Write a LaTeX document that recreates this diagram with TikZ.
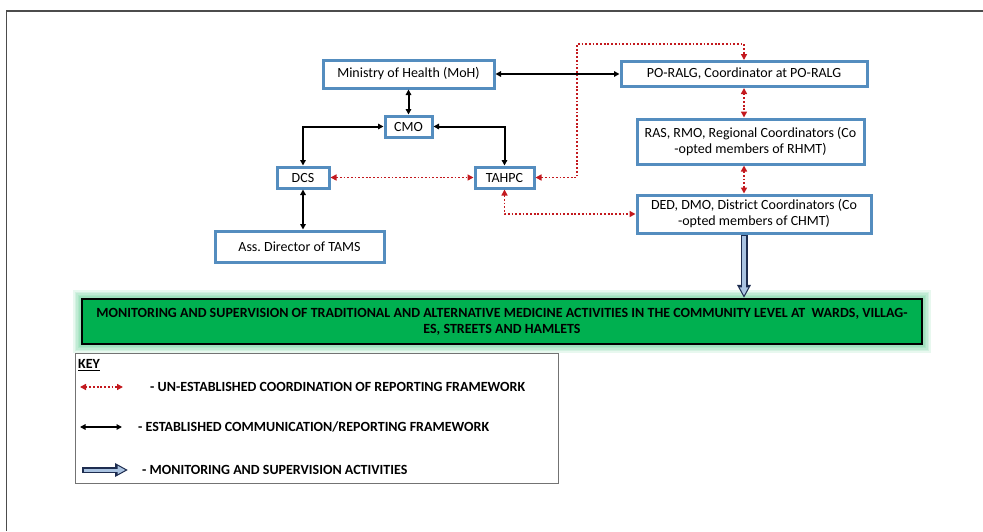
\documentclass[tikz,border=0pt]{standalone}
\usepackage{fontspec}
\setmainfont{Carlito}
\usepackage{tikz}
\usetikzlibrary{arrows.meta,positioning,calc,backgrounds}

\definecolor{boxblue}{RGB}{84,141,191}
\definecolor{linkred}{RGB}{195,25,30}
\definecolor{fillgreen}{RGB}{0,176,80}
\definecolor{arrownavy}{RGB}{30,45,80}
\definecolor{arrowfill}{RGB}{170,195,225}

\begin{document}
\begin{tikzpicture}[
    x=1pt, y=-1pt,
    box/.style={rectangle, draw=boxblue, line width=3pt, fill=white, align=center, inner sep=2pt, font=\fontsize{14}{16}\selectfont},
    solidlink/.style={{Triangle[length=5.5pt,width=5.5pt]}-{Triangle[length=5.5pt,width=5.5pt]}, line width=2pt, black},
    redlink/.style={{Triangle[length=6pt,width=6pt]}-{Triangle[length=6pt,width=6pt]}, line width=1.8pt, linkred, dash pattern=on 1.8pt off 1.9pt},
    monitorout/.style={-{Triangle[length=13pt,width=13pt]}, line width=7pt, arrownavy},
    monitorin/.style={-{Triangle[length=8pt,width=8pt]}, line width=4pt, arrowfill, shorten >=2.5pt, shorten <=1.5pt},
    keytext/.style={anchor=west, inner sep=0pt, font=\fontsize{14}{16}\selectfont\bfseries}
]
    \useasboundingbox (0,0) rectangle (983,531);
    \draw[line width=1.6pt, black!70] (6.5,531) -- (6.5,11) -- (983,11);

    % boxes
    \node[box, minimum width=171pt, minimum height=28pt] (moh) at (408.5,74) {Ministry of Health (MoH)};
    \node[box, minimum width=246pt, minimum height=25pt] (poralg) at (744,74) {PO-RALG, Coordinator at PO-RALG};
    \node[box, minimum width=47pt, minimum height=21pt] (cmo) at (408.5,126.5) {CMO};
    \node[box, minimum width=52pt, minimum height=21pt] (dcs) at (303,177.5) {DCS};
    \node[box, minimum width=59pt, minimum height=21pt] (tahpc) at (504.5,177.5) {TAHPC};
    \node[box, minimum width=169pt, minimum height=31pt] (tams) at (299.5,246.5) {Ass.\ Director of TAMS};
    \node[box, minimum width=227pt, minimum height=45pt] (ras) at (750.5,141.5) {RAS, RMO, Regional Coordinators (Co\\-opted members of RHMT)};
    \node[box, minimum width=234pt, minimum height=38pt] (ded) at (754,214) {DED, DMO, District Coordinators (Co\\-opted members of CHMT)};

    \node[draw=black, line width=2.2pt, fill=fillgreen, minimum width=840pt, minimum height=45pt, align=center,
          font=\fontsize{14}{16}\selectfont\bfseries] (green) at (502,321.5)
        {MONITORING AND SUPERVISION OF TRADITIONAL AND ALTERNATIVE MEDICINE ACTIVITIES IN THE COMMUNITY LEVEL AT\ \ WARDS, VILLAG-\\ES, STREETS AND HAMLETS};
    \begin{scope}[on background layer]
        \foreach \g in {1.5,3,...,7.5}
            \fill[fillgreen, opacity=0.09] ($(green.south west)+(-\g,\g)$) rectangle ($(green.north east)+(\g,-\g)$);
    \end{scope}

    % established links
    \draw[solidlink] (moh) -- (poralg);
    \draw[solidlink] (moh) -- (cmo);
    \draw[solidlink] (cmo.west) -| (dcs.north);
    \draw[solidlink] (cmo.east) -| (tahpc.north);
    \draw[solidlink] (dcs.south) -- (dcs.south |- tams.north);

    % un-established links
    \coordinate (bend) at (577,44);
    \draw[redlink] (dcs) -- (tahpc);
    \draw[redlink] (tahpc.east) -| (bend) -| (poralg.north);
    \draw[redlink] (poralg.south) -- (poralg.south |- ras.north);
    \draw[redlink] (ras.south -| poralg) -- (ded.north -| poralg);
    \draw[redlink] (tahpc.south) |- (ded.west);

    % monitoring
    \draw[monitorout] (ded.south -| poralg) -- (green.north -| poralg);
    \draw[monitorin] (ded.south -| poralg) -- (green.north -| poralg);

    % key
    \node[draw=black!55, line width=0.8pt, minimum width=483pt, minimum height=130pt, inner sep=0pt] (keybox) at (316.5,418) {};
    \node[keytext] (keytitle) at (78,365) {\underline{KEY}};

    \coordinate (unA) at (80,387);
    \coordinate (unB) at (123,387);
    \draw[redlink, line width=1.4pt] (unA) -- (unB);
    \node[keytext] (untext) at (150,387) {- UN-ESTABLISHED COORDINATION OF REPORTING FRAMEWORK};

    \coordinate (esA) at (80,427);
    \coordinate (esB) at (122,427);
    \draw[solidlink] (esA) -- (esB);
    \node[keytext] (estext) at (138,427) {- ESTABLISHED COMMUNICATION/REPORTING FRAMEWORK};

    \coordinate (moA) at (82,470);
    \coordinate (moB) at (128,470);
    \draw[monitorout, line width=6pt] (moA) -- (moB);
    \draw[monitorin, line width=3pt] (moA) -- (moB);
    \node[keytext] (motext) at (142,470) {- MONITORING AND SUPERVISION ACTIVITIES};
\end{tikzpicture}
\end{document}
